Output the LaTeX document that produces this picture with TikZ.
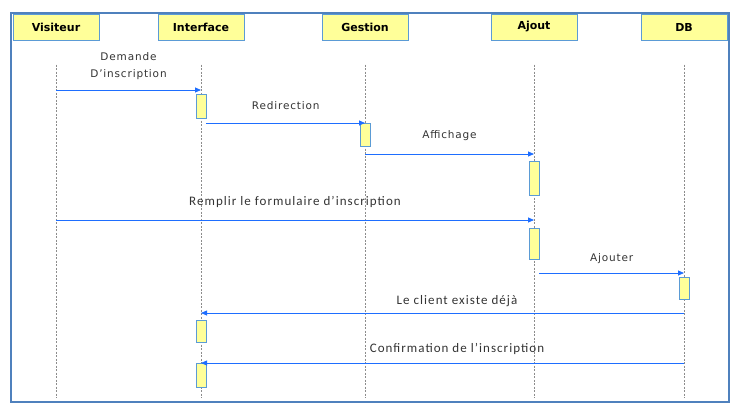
\documentclass[tikz,border=0pt]{standalone}
\usepackage{fontspec}
\setmainfont{DejaVu Sans}
\newfontfamily\headfont{DejaVu Sans}
\newfontfamily\msgfont[LetterSpace=8]{DejaVu Sans}
\newfontfamily\notefont[LetterSpace=8]{Carlito}
\usepackage{tikz}
\usetikzlibrary{arrows.meta, positioning}
\definecolor{boxyellow}{RGB}{255,255,153}
\definecolor{boxblue}{RGB}{91,155,213}
\definecolor{msgblue}{RGB}{30,110,255}
\definecolor{frameblue}{RGB}{79,129,189}

\begin{document}
\begin{tikzpicture}[x=1pt, y=-1pt,
  actor/.style={draw=boxblue, fill=boxyellow, line width=1pt, minimum width=86pt, minimum height=26pt, inner sep=0pt, font=\headfont\bfseries\fontsize{11}{12}\selectfont},
  act/.style={draw=boxblue, fill=boxyellow, line width=0.9pt, minimum width=10pt, inner sep=0pt},
  lifeline/.style={gray!90, line width=0.9pt, dash pattern=on 2pt off 1.5pt},
  msg/.style={-{Triangle[length=6pt, width=5pt]}, msgblue, line width=0.8pt},
  lbl/.style={text=black!80, inner sep=1pt, align=center, font=\msgfont\fontsize{10.5}{17}\selectfont},
  note/.style={text=black!80, inner sep=1pt, font=\notefont\fontsize{13}{14}\selectfont}
]
\useasboundingbox (0,0) rectangle (735,410);
\draw[frameblue, line width=2.5pt] (11,13) rectangle (729,402);

\node[actor] (visiteur) at (56,27) {Visiteur};
\node[actor] (interface) at (201,27) {Interface};
\node[actor] (gestion) at (365,27) {Gestion};
\node[actor] (ajout) at (534,27) {Ajout};
\node[actor] (db) at (684,27) {DB};

\coordinate (bottom) at (0,398);
\foreach \n in {visiteur, interface, gestion, ajout, db}
  \draw[lifeline] (\n.south) ++(0,24) -- (\n.south |- bottom);

\node[act, minimum height=24pt] (act1) at (interface |- 0,106) {};
\node[act, minimum height=23pt] (act2) at (gestion |- 0,134.5) {};
\node[act, minimum height=34pt] (act3) at (ajout |- 0,178) {};
\node[act, minimum height=31pt] (act4) at (ajout |- 0,243.5) {};
\node[act, minimum height=22pt] (act5) at (db |- 0,288) {};
\node[act, minimum height=22pt] (act6) at (interface |- 0,331) {};
\node[act, minimum height=24pt] (act7) at (interface |- 0,375) {};

\coordinate (m1) at (0,90);
\coordinate (m2) at (0,123);
\coordinate (m3) at (0,154);
\coordinate (m4) at (0,220);
\coordinate (m5) at (0,273);
\coordinate (m6) at (0,313);
\coordinate (m7) at (0,363);

\draw[msg] (visiteur |- m1) -- (interface |- m1) node[midway, above=9pt, lbl] {Demande\\D’inscription};
\draw[msg] (act1.east |- m2) -- (gestion |- m2) node[midway, above=12pt, lbl] {Redirection};
\draw[msg] (gestion |- m3) -- (ajout |- m3) node[midway, above=12pt, lbl] {Affichage};
\draw[msg] (visiteur |- m4) -- (ajout |- m4) node[midway, above=11pt, note] {Remplir le formulaire d’inscription};
\draw[msg] (act4.east |- m5) -- (db |- m5) node[midway, above=8pt, lbl] {Ajouter};
\draw[msg] (db |- m6) -- (interface |- m6) node[pos=0.47, above=4.5pt, note] {Le client existe déjà};
\draw[msg] (db |- m7) -- (interface |- m7) node[pos=0.47, above=7.5pt, note] {Confirmation de l’inscription};

\end{tikzpicture}
\end{document}
